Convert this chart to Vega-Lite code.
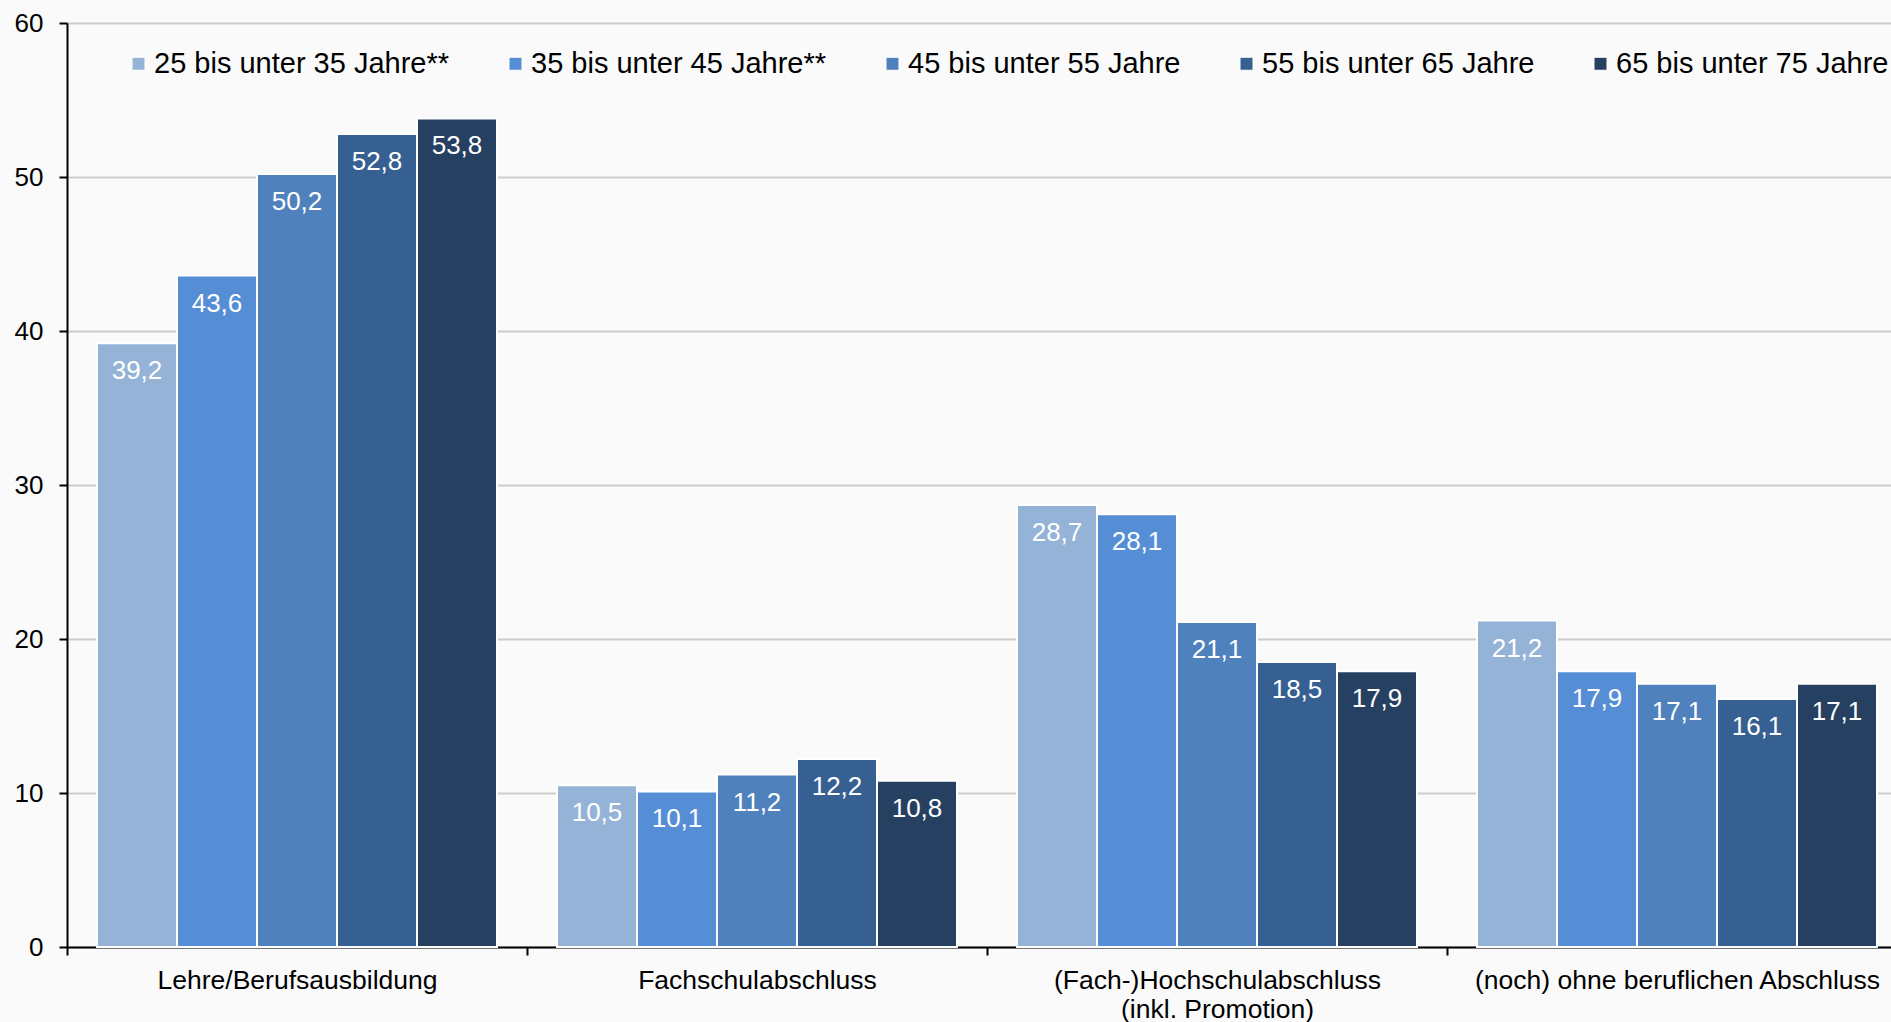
{
  "$schema": "https://vega.github.io/schema/vega-lite/v6.json",
  "autosize": {"type": "none"},
  "width": 1824,
  "height": 924,
  "padding": {"left": 67, "top": 23, "right": 0, "bottom": 75},
  "background": "#fafafa",
  "config": {
    "locale": {"number": {"decimal": ",", "thousands": ".", "grouping": [3], "currency": ["", " €"]}},
    "view": {"stroke": null},
    "font": "Liberation Sans"
  },
  "data": {
    "values": [
      {"abschluss": "Lehre/Berufsausbildung", "alter": "25 bis unter 35 Jahre**", "wert": 39.2},
      {"abschluss": "Lehre/Berufsausbildung", "alter": "35 bis unter 45 Jahre**", "wert": 43.6},
      {"abschluss": "Lehre/Berufsausbildung", "alter": "45 bis unter 55 Jahre", "wert": 50.2},
      {"abschluss": "Lehre/Berufsausbildung", "alter": "55 bis unter 65 Jahre", "wert": 52.8},
      {"abschluss": "Lehre/Berufsausbildung", "alter": "65 bis unter 75 Jahre", "wert": 53.8},
      {"abschluss": "Fachschulabschluss", "alter": "25 bis unter 35 Jahre**", "wert": 10.5},
      {"abschluss": "Fachschulabschluss", "alter": "35 bis unter 45 Jahre**", "wert": 10.1},
      {"abschluss": "Fachschulabschluss", "alter": "45 bis unter 55 Jahre", "wert": 11.2},
      {"abschluss": "Fachschulabschluss", "alter": "55 bis unter 65 Jahre", "wert": 12.2},
      {"abschluss": "Fachschulabschluss", "alter": "65 bis unter 75 Jahre", "wert": 10.8},
      {"abschluss": "(Fach-)Hochschulabschluss (inkl. Promotion)", "alter": "25 bis unter 35 Jahre**", "wert": 28.7},
      {"abschluss": "(Fach-)Hochschulabschluss (inkl. Promotion)", "alter": "35 bis unter 45 Jahre**", "wert": 28.1},
      {"abschluss": "(Fach-)Hochschulabschluss (inkl. Promotion)", "alter": "45 bis unter 55 Jahre", "wert": 21.1},
      {"abschluss": "(Fach-)Hochschulabschluss (inkl. Promotion)", "alter": "55 bis unter 65 Jahre", "wert": 18.5},
      {"abschluss": "(Fach-)Hochschulabschluss (inkl. Promotion)", "alter": "65 bis unter 75 Jahre", "wert": 17.9},
      {"abschluss": "(noch) ohne beruflichen Abschluss", "alter": "25 bis unter 35 Jahre**", "wert": 21.2},
      {"abschluss": "(noch) ohne beruflichen Abschluss", "alter": "35 bis unter 45 Jahre**", "wert": 17.9},
      {"abschluss": "(noch) ohne beruflichen Abschluss", "alter": "45 bis unter 55 Jahre", "wert": 17.1},
      {"abschluss": "(noch) ohne beruflichen Abschluss", "alter": "55 bis unter 65 Jahre", "wert": 16.1},
      {"abschluss": "(noch) ohne beruflichen Abschluss", "alter": "65 bis unter 75 Jahre", "wert": 17.1}
    ]
  },
  "encoding": {
    "x": {
      "field": "abschluss",
      "type": "nominal",
      "sort": null,
      "scale": {"range": [0, 1840], "paddingInner": 0, "paddingOuter": 0},
      "axis": {
        "title": null,
        "labelAngle": 0,
        "labelFontSize": 26.5,
        "labelColor": "black",
        "labelPadding": 12,
        "labelLineHeight": 29,
        "labelLimit": 600,
        "domainColor": "black",
        "domainWidth": 2,
        "tickColor": "black",
        "tickWidth": 2,
        "tickSize": 8,
        "tickBand": "extent",
        "grid": false,
        "labelExpr": "datum.value == '(Fach-)Hochschulabschluss (inkl. Promotion)' ? ['(Fach-)Hochschulabschluss', '(inkl. Promotion)'] : datum.label"
      }
    },
    "xOffset": {
      "field": "alter",
      "type": "nominal",
      "sort": ["25 bis unter 35 Jahre**", "35 bis unter 45 Jahre**", "45 bis unter 55 Jahre", "55 bis unter 65 Jahre", "65 bis unter 75 Jahre"],
      "scale": {"paddingInner": 0, "paddingOuter": 0.375}
    },
    "y": {
      "field": "wert",
      "type": "quantitative",
      "scale": {"domain": [0, 60], "nice": false},
      "axis": {
        "title": null,
        "values": [0, 10, 20, 30, 40, 50, 60],
        "format": "d",
        "labelFontSize": 26,
        "labelColor": "black",
        "labelPadding": 16,
        "domainColor": "black",
        "domainWidth": 2,
        "tickColor": "black",
        "tickWidth": 2,
        "tickSize": 8,
        "grid": true,
        "gridColor": "#cccccc",
        "gridWidth": 2
      }
    }
  },
  "layer": [
    {
      "mark": {"type": "bar", "stroke": "white", "strokeWidth": 2},
      "encoding": {
        "color": {
          "field": "alter",
          "type": "nominal",
          "scale": {
            "domain": ["25 bis unter 35 Jahre**", "35 bis unter 45 Jahre**", "45 bis unter 55 Jahre", "55 bis unter 65 Jahre", "65 bis unter 75 Jahre"],
            "range": ["#95b3d7", "#558ed5", "#4f81bd", "#376092", "#254061"]
          },
          "legend": {
            "orient": "none",
            "legendX": 57,
            "legendY": 26,
            "direction": "horizontal",
            "columns": 5,
            "title": null,
            "padding": 0,
            "labelFontSize": 29,
            "labelColor": "black",
            "labelLimit": 600,
            "labelOffset": 1,
            "columnPadding": 51,
            "symbolType": "square",
            "symbolSize": 169,
            "symbolStrokeColor": "white",
            "symbolStrokeWidth": 1,
            "symbolOpacity": 1
          }
        }
      }
    },
    {
      "mark": {"type": "text", "baseline": "alphabetic", "dy": 36, "color": "white", "fontSize": 26},
      "encoding": {
        "text": {"field": "wert", "type": "quantitative", "format": ".1f"}
      }
    }
  ]
}
